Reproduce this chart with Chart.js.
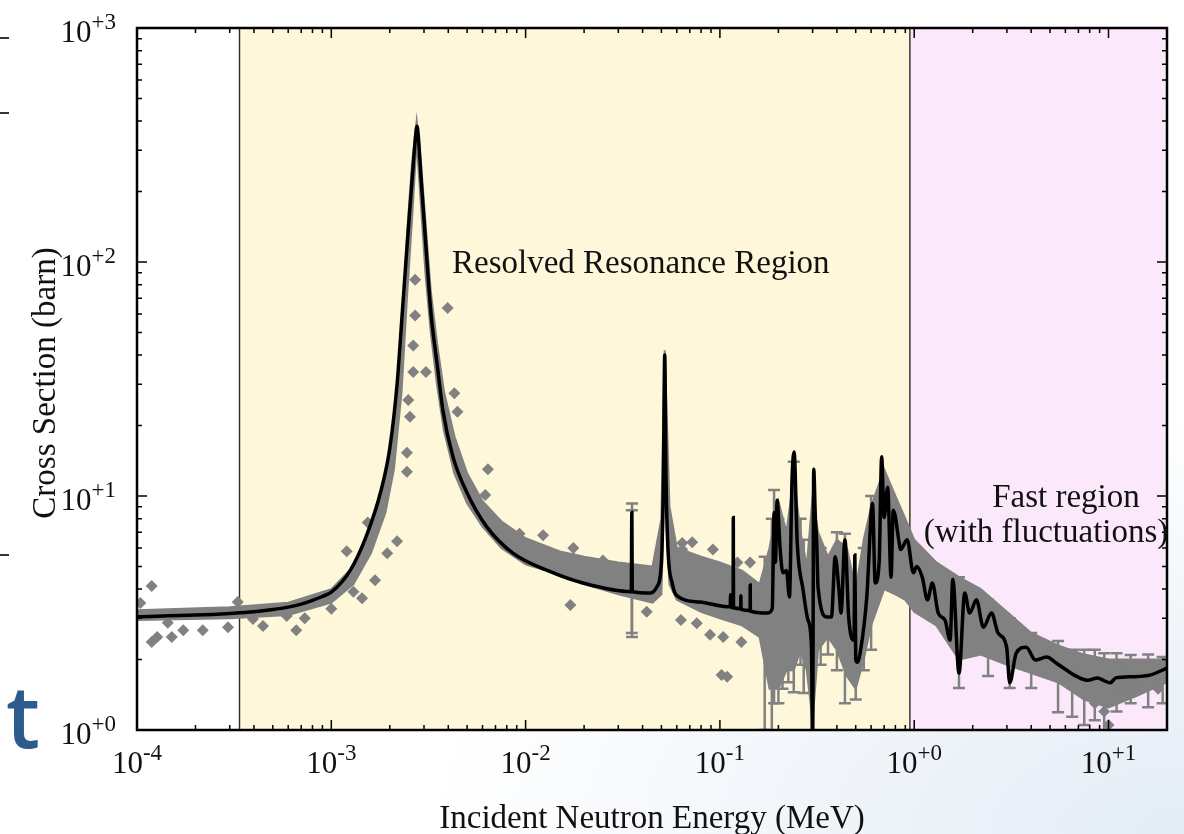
<!DOCTYPE html>
<html>
<head>
<meta charset="utf-8">
<title>Neutron cross section</title>
<script src="https://cdn.jsdelivr.net/npm/chart.js@4.4.1/dist/chart.umd.min.js"></script>
<style>
  html, body { margin: 0; padding: 0; }
  body {
    width: 1184px; height: 834px; overflow: hidden; position: relative;
    background: radial-gradient(ellipse 760px 420px at 1184px 834px, #e3ecf5 0%, #f1f5fa 50%, #ffffff 100%);
  }
  #wrap { position: absolute; left: 0; top: 0; }
  .slide_t {
    position: absolute; left: 6px; top: 672px;
    font-family: "Open Sans", sans-serif; font-weight: 600; font-size: 86px;
    line-height: 86px; color: #2d5b8e;
  }
  .edge_tick { position: absolute; left: 0; width: 9px; height: 2px; background: #333; }
</style>
</head>
<body>
<div class="edge_tick" style="top:37px"></div>
<div class="edge_tick" style="top:112px"></div>
<div class="edge_tick" style="top:554px"></div>
<div class="slide_t">t</div>
<div id="wrap"><canvas id="xs_chart" width="1184" height="834"></canvas></div>
<script>
// region limits (MeV)
var xMin = 1e-4, xMax = 20;
var yMin = 1, yMax = 1000;
var resolvedStart = 3.37e-4;
var fastStart = 0.95;

// tick labels (exponents of 10)
var xTickExp = [-4, -3, -2, -1, 0, 1];
var xTickLabels = ['-4', '-3', '-2', '-1', '+0', '+1'];
var yTickExp = [0, 1, 2, 3];
var yTickLabels = ['+0', '+1', '+2', '+3'];

// evaluated cross section (black line)
var evalE = [1e-4, 2e-4, 3e-4, 4e-4, 5e-4, 6e-4, 7e-4, 8e-4, 9e-4, 1.0e-3, 1.25e-3, 1.5e-3, 1.8e-3, 2.0e-3,
  2.18e-3, 2.31e-3, 2.45e-3, 2.6e-3, 2.72e-3, 2.76e-3, 2.8e-3, 2.9e-3, 3.07e-3, 3.26e-3, 3.5e-3, 3.76e-3,
  4.23e-3, 5e-3, 6.3e-3, 8.6e-3, 1.34e-2, 1.97e-2, 3.5e-2, 3.52e-2, 3.54e-2, 4.4e-2, 4.75e-2, 5.0e-2,
  5.12e-2, 5.2e-2, 5.28e-2, 5.4e-2, 5.7e-2, 6.0e-2, 7.9e-2, 0.113, 0.1135, 0.114, 0.117, 0.1172, 0.1175,
  0.128, 0.1282, 0.1285, 0.143, 0.1432, 0.1435, 0.175, 0.186, 0.190, 0.193, 0.197, 0.204, 0.211, 0.22,
  0.228, 0.235, 0.241, 0.25, 0.268, 0.284, 0.296, 0.300, 0.304, 0.31, 0.315, 0.32, 0.356, 0.375, 0.392,
  0.41, 0.42, 0.44, 0.46, 0.49, 0.495, 0.50, 0.51, 0.53, 0.57, 0.61, 0.63, 0.66, 0.68, 0.70, 0.73, 0.76,
  0.78, 0.84, 0.85, 0.92, 0.99, 1.03, 1.1, 1.17, 1.24, 1.33, 1.44, 1.53, 1.58, 1.7, 1.82, 1.93, 2.09,
  2.27, 2.5, 2.7, 2.99, 3.1, 3.35, 3.77, 4.2, 4.8, 5.4, 6.1, 6.9, 7.8, 8.8, 9.4, 10.2, 10.9, 13.5, 16.5, 20];
var evalXS = [3.05, 3.1, 3.15, 3.2, 3.27, 3.35, 3.45, 3.58, 3.72, 3.88, 4.8, 6.6, 10.5, 16,
  30, 58, 115, 220, 350, 380, 350, 225, 116, 60, 37, 23,
  14.7, 10.3, 7.4, 5.7, 4.75, 4.25, 3.9, 8.5, 3.9, 3.85, 4.1, 5.2,
  12, 40, 12, 6, 4.2, 3.75, 3.52, 3.36, 3.78, 3.36, 3.33, 8.1, 3.33,
  3.3, 3.75, 3.28, 3.24, 4.17, 3.22, 3.16, 3.3, 8.5, 5.2, 9.6, 6, 4.7, 4.8,
  3.7, 11.7, 15.4, 6.3, 3.97, 2.95, 2.26, 0.8, 13, 8, 6.3, 4.07, 3.04, 3.04, 5.5,
  3.97, 3.16, 6.5, 3.04, 2.42, 5.6, 2.0, 1.95, 2.2, 3.7, 9.3, 4.25, 5.2, 14.7, 8.1, 10.9, 4.5,
  8.7, 6.2, 5.9, 6.5, 4.7, 5.0, 4.5, 3.6, 4.25, 3.16, 2.95, 2.42, 4.4, 1.75, 3.85, 3.16, 3.6,
  2.75, 3.16, 2.6, 2.26, 1.59, 2.13, 2.26, 1.99, 2.05, 1.93, 1.8, 1.69, 1.63, 1.67, 1.63, 1.59, 1.67, 1.69, 1.72, 1.84];

// spread of the dense measured data (grey band)
var bandE = [1e-4, 3e-4, 6e-4, 1e-3, 1.3e-3, 1.6e-3, 1.9e-3, 2.1e-3, 2.3e-3, 2.45e-3, 2.6e-3, 2.75e-3, 2.9e-3,
  3.05e-3, 3.25e-3, 3.5e-3, 3.8e-3, 4.3e-3, 5e-3, 6e-3, 7.5e-3, 1e-2, 1.5e-2, 2e-2, 3e-2, 4.5e-2, 5.0e-2,
  5.15e-2, 5.2e-2, 5.3e-2, 5.5e-2, 6e-2, 8e-2, 0.1, 0.13, 0.16, 0.18, 0.2, 0.22, 0.24, 0.26, 0.28, 0.3,
  0.32, 0.36, 0.4, 0.45, 0.5, 0.55, 0.6, 0.7, 0.8, 0.9, 1.0, 1.3, 1.7, 2.2, 3.0, 4, 5.5, 7.5, 10, 14, 20];
var bandLo = [2.95, 3.0, 3.1, 3.5, 4.2, 5.7, 8.5, 13, 28, 70, 150, 330, 170,
  90, 50, 30, 19, 12.5, 9.3, 7.4, 6.0, 5.1, 4.6, 4.2, 3.8, 3.5, 3.8,
  10, 20, 8, 4.2, 3.6, 3.2, 3.0, 2.8, 2.5, 1.5, 1.5, 1.8, 1.8, 2.2, 1.8, 1.1,
  2.2, 2.5, 2.2, 1.7, 1.5, 2.0, 2.8, 4.0, 3.8, 3.6, 3.2, 2.8, 2.0, 2.1, 1.9, 1.75, 1.6, 1.35, 1.25, 1.4, 1.6];
var bandHi = [3.25, 3.35, 3.5, 4.0, 5.0, 7.5, 11.5, 20, 45, 130, 260, 400, 260,
  150, 75, 45, 28, 18, 12.5, 9.5, 7.8, 6.6, 5.8, 5.5, 5.2, 5.0, 8,
  30, 42, 25, 9, 6, 5.5, 5.2, 4.8, 4.2, 6, 9.5, 7, 12, 7, 5, 10,
  7, 5.5, 6.5, 6, 4, 6.5, 9, 13, 10, 8, 6.5, 5.2, 4.5, 4.0, 3.2, 2.6, 2.3, 2.1, 2.0, 2.0, 2.0];

// scattered measured points
var ptE = [1.04e-4, 1.19e-4, 1.19e-4, 1.27e-4, 1.44e-4, 1.51e-4, 1.73e-4, 2.18e-4, 2.94e-4, 3.3e-4, 3.95e-4,
  4.45e-4, 5.9e-4, 6.6e-4, 7.3e-4, 1.0e-3, 1.2e-3, 1.3e-3, 1.44e-3, 1.54e-3, 1.68e-3, 1.94e-3, 2.18e-3,
  2.45e-3, 2.45e-3, 2.54e-3, 2.49e-3, 2.64e-3, 3.07e-3, 2.64e-3, 2.7e-3, 2.7e-3, 3.97e-3, 4.3e-3, 4.46e-3,
  6.4e-3, 6.2e-3, 1.23e-2, 9.3e-3, 1.76e-2, 1.76e-2, 1.7e-2, 2.5e-2, 4.2e-2, 6.4e-2, 7.2e-2, 6.4e-2, 9.2e-2,
  6.3e-2, 7.6e-2, 8.9e-2, 0.104, 0.129, 0.102, 0.109, 0.143, 0.123,
  8.5, 9.5, 10, 11, 12, 14, 18, 20, 15, 12];
var ptXS = [3.49, 4.12, 2.38, 2.5, 2.87, 2.5, 2.67, 2.67, 2.75, 3.52, 2.98,
  2.78, 3.07, 2.67, 3.0, 3.3, 5.8, 3.9, 3.66, 7.7, 4.37, 5.7, 6.4,
  12.7, 15.3, 21.8, 25.7, 33.9, 33.9, 44, 59, 84, 63.6, 27.5, 22.9,
  13, 10.1, 6.8, 6.9, 6.0, 5.44, 3.42, 5.3, 3.2, 6.3, 6.35, 5.9, 5.9,
  2.95, 2.86, 2.55, 2.5, 2.38, 1.72, 1.69, 5.2, 5.2,
  1.3, 1.2, 1.05, 1.35, 1.5, 1.55, 1.5, 1.75, 1.9, 1.9];

// error bars on measured data
var errE = [0.0352, 0.0353, 0.17, 0.185, 0.19, 0.2, 0.21, 0.225, 0.24, 0.26, 0.27, 0.33, 0.36, 0.4, 0.44,
  0.5, 0.55, 0.6, 1.7, 2.4, 3.1, 4.0, 5.5, 6.5, 7.5, 8.5, 9.5, 11, 13, 16, 19];
var errLo = [2.6, 2.5, 1.0, 0.95, 1.3, 1.3, 1.5, 1.6, 1.45, 1.9, 1.44, 1.9, 2.1, 1.8, 1.3,
  1.35, 1.8, 2.2, 1.51, 1.7, 1.51, 1.51, 1.19, 1.14, 1.05, 1.1, 0.95, 1.2, 1.3, 1.25, 1.3];
var errHi = [8.7, 9.3, 5.5, 8, 10.6, 8, 6, 7, 14, 8, 6.5, 6, 5, 7, 6.9,
  4, 6, 10, 4.5, 3.6, 3, 2.6, 2.4, 2.2, 2.2, 2.2, 2.13, 2.13, 2.09, 2.1, 2.05];

var grey = '#818181';
var serif = '"Liberation Serif", "Times New Roman", serif';

function pairs(xs, ys) {
  var out = [];
  for (var i = 0; i < xs.length; i++) out.push({ x: xs[i], y: ys[i] });
  return out;
}

// shaded regions, region borders and error bars (under the data)
var regionPlugin = {
  id: 'regions',
  beforeDatasetsDraw(chart) {
    var ctx = chart.ctx, a = chart.chartArea;
    var xs = chart.scales.x, ys = chart.scales.y;
    var xl = xs.getPixelForValue(resolvedStart);
    var xr = xs.getPixelForValue(fastStart);
    ctx.save();
    ctx.fillStyle = '#ffffff';
    ctx.fillRect(a.left, a.top, a.width, a.height);
    ctx.fillStyle = '#fff7da';
    ctx.fillRect(xl, a.top, xr - xl, a.height);
    ctx.fillStyle = '#fbe9fb';
    ctx.fillRect(xr, a.top, a.right - xr, a.height);
    ctx.strokeStyle = '#2a2a2a';
    ctx.lineWidth = 1.4;
    ctx.beginPath();
    ctx.moveTo(xl, a.top); ctx.lineTo(xl, a.bottom);
    ctx.moveTo(xr, a.top); ctx.lineTo(xr, a.bottom);
    ctx.stroke();

    ctx.beginPath();
    ctx.rect(a.left, a.top, a.width, a.height);
    ctx.clip();
    ctx.strokeStyle = grey;
    ctx.lineWidth = 2.5;
    for (var i = 0; i < errE.length; i++) {
      var px = xs.getPixelForValue(errE[i]);
      var p1 = ys.getPixelForValue(errLo[i]);
      var p2 = ys.getPixelForValue(errHi[i]);
      ctx.beginPath();
      ctx.moveTo(px, p1); ctx.lineTo(px, p2);
      ctx.moveTo(px - 6, p1); ctx.lineTo(px + 6, p1);
      ctx.moveTo(px - 6, p2); ctx.lineTo(px + 6, p2);
      ctx.stroke();
    }
    ctx.restore();
  }
};

// gnuplot style frame: inward ticks on all sides, 10^n labels, titles
function drawPow(ctx, exp, x, y, align) {
  ctx.font = '31px ' + serif;
  var w1 = ctx.measureText('10').width;
  ctx.font = '23px ' + serif;
  var w2 = ctx.measureText(exp).width;
  var left = align === 'center' ? x - (w1 + w2) / 2 : x - (w1 + w2);
  ctx.textAlign = 'left';
  ctx.textBaseline = 'alphabetic';
  ctx.font = '31px ' + serif;
  ctx.fillText('10', left, y);
  ctx.font = '23px ' + serif;
  ctx.fillText(exp, left + w1, y - 13);
}

var framePlugin = {
  id: 'frame',
  afterDatasetsDraw(chart) {
    var ctx = chart.ctx, a = chart.chartArea;
    var xs = chart.scales.x, ys = chart.scales.y;
    ctx.save();
    ctx.strokeStyle = '#000';
    ctx.lineWidth = 1.5;
    ctx.beginPath();
    var e, m, v, p, len;
    for (e = xTickExp[0]; e <= xTickExp[xTickExp.length - 1]; e++) {
      for (m = 1; m <= 9; m++) {
        v = m * Math.pow(10, e);
        if (v < xMin || v > xMax) continue;
        p = xs.getPixelForValue(v);
        len = m === 1 ? 10 : 5;
        ctx.moveTo(p, a.bottom); ctx.lineTo(p, a.bottom - len);
        ctx.moveTo(p, a.top); ctx.lineTo(p, a.top + len);
      }
    }
    for (e = yTickExp[0]; e <= yTickExp[yTickExp.length - 1]; e++) {
      for (m = 1; m <= 9; m++) {
        v = m * Math.pow(10, e);
        if (v < yMin || v > yMax) continue;
        p = ys.getPixelForValue(v);
        len = m === 1 ? 10 : 5;
        ctx.moveTo(a.left, p); ctx.lineTo(a.left + len, p);
        ctx.moveTo(a.right, p); ctx.lineTo(a.right - len, p);
      }
    }
    ctx.stroke();
    ctx.lineWidth = 2.5;
    ctx.strokeRect(a.left, a.top, a.width, a.height);

    ctx.fillStyle = '#111';
    xTickExp.forEach(function (ex, i) {
      drawPow(ctx, xTickLabels[i], xs.getPixelForValue(Math.pow(10, ex)), 773, 'center');
    });
    yTickExp.forEach(function (ex, i) {
      drawPow(ctx, yTickLabels[i], a.left - 21, ys.getPixelForValue(Math.pow(10, ex)) + 14, 'right');
    });

    ctx.font = '33px ' + serif;
    ctx.textAlign = 'center';
    ctx.textBaseline = 'alphabetic';
    ctx.fillText('Incident Neutron Energy (MeV)', (a.left + a.right) / 2, 828);
    ctx.save();
    ctx.translate(55, 383);
    ctx.rotate(-Math.PI / 2);
    ctx.fillText('Cross Section (barn)', 0, 0);
    ctx.restore();

    ctx.textAlign = 'left';
    ctx.fillText('Resolved Resonance Region', 452, 273);
    ctx.textAlign = 'center';
    ctx.fillText('Fast region', 1066, 507);
    ctx.fillText('(with fluctuations)', 1046, 542);
    ctx.restore();
  }
};

var ctx = document.getElementById('xs_chart').getContext('2d');
var xsChart = new Chart(ctx, {
  type: 'line',
  data: {
    datasets: [
      {
        label: 'Evaluation',
        data: pairs(evalE, evalXS),
        borderColor: '#000',
        borderWidth: 3.5,
        pointRadius: 0,
        cubicInterpolationMode: 'monotone',
        fill: false
      },
      {
        label: 'Measured',
        data: pairs(ptE, ptXS),
        showLine: false,
        pointStyle: 'rectRot',
        pointRadius: 6,
        pointBackgroundColor: grey,
        pointBorderWidth: 0
      },
      {
        label: 'Measured (upper)',
        data: pairs(bandE, bandHi),
        borderColor: grey,
        borderWidth: 2,
        pointRadius: 0,
        backgroundColor: grey,
        fill: '+1'
      },
      {
        label: 'Measured (lower)',
        data: pairs(bandE, bandLo),
        borderColor: grey,
        borderWidth: 2,
        pointRadius: 0,
        fill: false
      }
    ]
  },
  options: {
    responsive: false,
    animation: false,
    layout: { padding: { left: 137, top: 28, right: 17, bottom: 104 } },
    scales: {
      x: { type: 'logarithmic', min: xMin, max: xMax, display: false },
      y: { type: 'logarithmic', min: yMin, max: yMax, display: false }
    },
    plugins: {
      legend: { display: false },
      tooltip: { enabled: false }
    }
  },
  plugins: [regionPlugin, framePlugin]
});
</script>
</body>
</html>
